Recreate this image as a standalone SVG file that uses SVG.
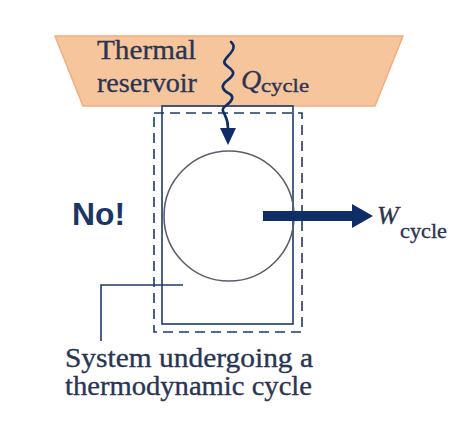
<svg xmlns="http://www.w3.org/2000/svg" width="470" height="429" viewBox="0 0 470 429">
<defs>
<style>
.t{font-family:"Liberation Serif","Times New Roman",serif;fill:#2a3553;stroke:#2a3553;stroke-width:0.35px;}
.ln{fill:none;stroke:#1d3a6b;stroke-width:1.6px;}
.wave{fill:none;stroke:#0f2d66;stroke-width:2.6px;stroke-linecap:round;}
</style>
</defs>
<rect width="470" height="429" fill="#fff"/>
<g id="reservoir">
<polygon points="55,36 403,36 375,106 83,106" fill="#f7c59c" stroke="#f2ad7e" stroke-width="1.5"/>
<text class="t" x="97" y="59" font-size="28" textLength="99" lengthAdjust="spacingAndGlyphs">Thermal</text>
<text class="t" x="97" y="92" font-size="28" textLength="100" lengthAdjust="spacingAndGlyphs">reservoir</text>
</g>
<g id="system">
<rect x="162" y="106" width="131" height="218" class="ln"/>
<rect x="154" y="113" width="148" height="219" class="ln" stroke-dasharray="10 6"/>
<circle cx="229" cy="216" r="65" fill="none" stroke="#5a5f6a" stroke-width="1.6"/>
</g>
<g id="no">
<text x="72" y="225" font-family="'Liberation Sans',Arial,sans-serif" font-weight="bold" font-size="31" fill="#1b3566" textLength="53" lengthAdjust="spacingAndGlyphs">No!</text>
</g>
<g id="label">
<text class="t" x="65" y="367" font-size="28" textLength="248" lengthAdjust="spacingAndGlyphs">System undergoing a</text>
<text class="t" x="65" y="395" font-size="28" textLength="247" lengthAdjust="spacingAndGlyphs">thermodynamic cycle</text>
</g>
<g id="connectors">
<path class="wave" d="M231,42 C238,48 229,54 225,60 C221,66 235,68 233,74 C231,80 221,82 223,88 C225,94 234,93 232,99 C230,105 221,106 223,111 C225,116 228,118 228,128"/>
<polygon points="220,128 236,128 228,145" fill="#0f2d66"/>
<rect x="263" y="211" width="90" height="10" fill="#0f2d66"/>
<polygon points="352,204 373,216 352,228" fill="#0f2d66"/>
<polyline class="ln" points="101,341 101,285 183,285"/>
</g>
<g id="labels">
<text class="t" x="241" y="89" font-size="28" font-style="italic">Q</text>
<text class="t" x="261" y="92" font-size="19" textLength="48" lengthAdjust="spacingAndGlyphs">cycle</text>
<text class="t" x="377" y="224" font-size="26" font-style="italic">W</text>
<text class="t" x="400" y="238" font-size="20" textLength="47" lengthAdjust="spacingAndGlyphs">cycle</text>
</g>
</svg>
